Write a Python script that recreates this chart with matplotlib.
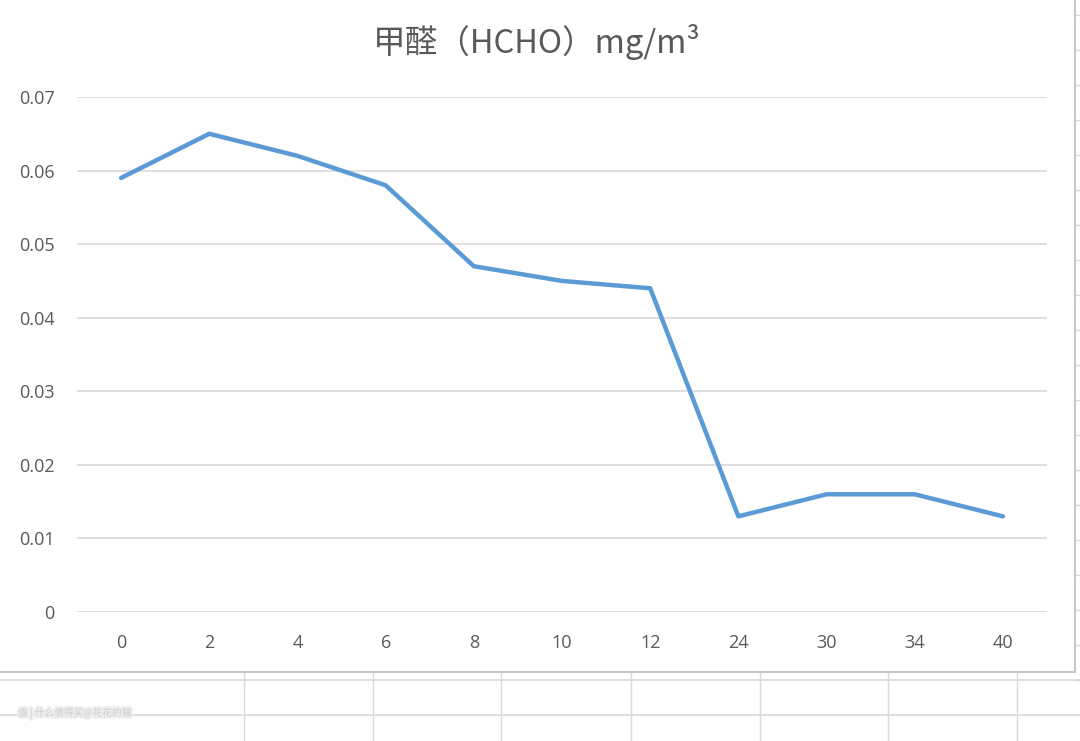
import matplotlib
matplotlib.use('Agg')
import matplotlib.pyplot as plt
from matplotlib.lines import Line2D
from matplotlib.patches import Rectangle
import matplotlib.patheffects as pe

# datos
hours = ['0', '2', '4', '6', '8', '10', '12', '24', '30', '34', '40']
hcho = [0.059, 0.065, 0.062, 0.058, 0.047, 0.045, 0.044, 0.013, 0.016, 0.016, 0.013]
yticks = [0, 0.01, 0.02, 0.03, 0.04, 0.05, 0.06, 0.07]
ytick_labels = ['0', '0.01', '0.02', '0.03', '0.04', '0.05', '0.06', '0.07']

W, H = 1080, 741
fig = plt.figure(figsize=(W / 100, H / 100), dpi=100)
fig.patch.set_facecolor('white')

def fx(px):
    return px / W

def fy(py):
    return 1 - py / H

# cuadricula de la hoja de calculo (fondo)
grid_c = '#d9d9d9'
for y in [680, 715]:
    fig.add_artist(Line2D([0, 1], [fy(y), fy(y)], color=grid_c, lw=1.2, zorder=0))
for x in [244, 373, 501, 631, 760, 888, 1017]:
    fig.add_artist(Line2D([fx(x), fx(x)], [fy(672), 0], color=grid_c, lw=1.0, zorder=0))
y = 680
while y > 0:
    fig.add_artist(Line2D([fx(1075), 1], [fy(y), fy(y)], color=grid_c, lw=1.0, zorder=0))
    y -= 35

# area del grafico
fig.add_artist(Rectangle((fx(-5), fy(672)), fx(1080), fy(-10) - fy(672),
                         facecolor='white', edgecolor='#c8c8c8', lw=1.5, zorder=1))

# marca de agua
fig.text(fx(18), fy(713), '值 | 什么值得买@花花的猫', fontsize=7, color='#cccccc',
         family=['Noto Sans CJK SC', 'DejaVu Sans'], va='center', ha='left', zorder=3,
         path_effects=[pe.withStroke(linewidth=3, foreground='#eeeeee')])

ax = fig.add_axes([fx(77), fy(612), fx(1047) - fx(77), fy(97) - fy(612)], zorder=2)
ax.set_facecolor('none')
ax.plot(range(len(hours)), hcho, color='#5b9bd5', lw=3.2, solid_capstyle='round', zorder=3)
ax.set_xlim(-0.5, len(hours) - 0.5)
ax.set_ylim(0, 0.07)
ax.set_yticks(yticks)
ax.set_yticklabels(ytick_labels)
ax.set_xticks(range(len(hours)))
ax.set_xticklabels(hours)
ax.grid(axis='y', color='#d9d9d9', lw=1.2)
ax.set_axisbelow(True)
for s in ax.spines.values():
    s.set_visible(False)
ax.tick_params(length=0, labelsize=13, labelcolor='#595959')
ax.tick_params(axis='x', pad=16)
ax.tick_params(axis='y', pad=16)
for lab in ax.get_xticklabels() + ax.get_yticklabels():
    lab.set_family(['Open Sans', 'DejaVu Sans'])

fig.text(fx(537), fy(42), '甲醛（HCHO）mg/m³', fontsize=23.5, color='#595959',
         family=['Noto Sans CJK SC', 'DejaVu Sans'], ha='center', va='center', zorder=3)

fig.savefig('out.png', dpi=100)
